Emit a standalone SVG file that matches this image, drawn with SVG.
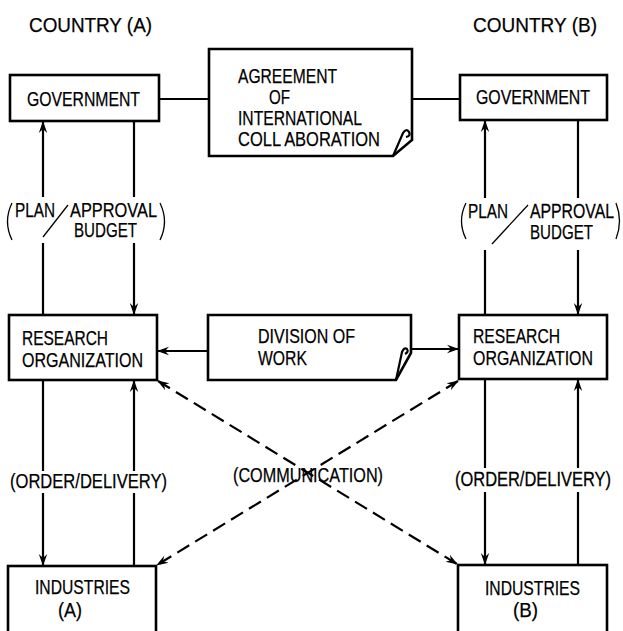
<svg xmlns="http://www.w3.org/2000/svg" width="623" height="631" viewBox="0 0 623 631">
<defs>
<marker id="ah" viewBox="0 0 12 10" markerWidth="12" markerHeight="10" refX="11" refY="5" orient="auto" markerUnits="userSpaceOnUse">
<path d="M0,0.8 L12,5 L0,9.2 L4,5 Z" fill="#000"/>
</marker>
<marker id="ahs" viewBox="0 0 12 10" markerWidth="12" markerHeight="10" refX="1" refY="5" orient="auto" markerUnits="userSpaceOnUse">
<path d="M12,0.8 L0,5 L12,9.2 L8,5 Z" fill="#000"/>
</marker>
<style>
text{font-family:"Liberation Sans",Arial,sans-serif;font-size:20px;fill:#000;stroke:#000;stroke-width:0.25}
.t{font-size:21px}
.s{font-size:17px}
.box{fill:#fff;stroke:#000;stroke-width:2.6}
.ln{fill:none;stroke:#000;stroke-width:2.2}
.dash{fill:none;stroke:#000;stroke-width:2.2;stroke-dasharray:14 7}
.thin{fill:none;stroke:#000;stroke-width:1.3}
</style>
</defs>
<rect width="623" height="631" fill="#fff"/>
<text class="t" x="29" y="32" textLength="123" lengthAdjust="spacingAndGlyphs">COUNTRY (A)</text>
<text class="t" x="473" y="32" textLength="124" lengthAdjust="spacingAndGlyphs">COUNTRY (B)</text>

<g id="connectors">
<line class="ln" x1="159" y1="99" x2="209" y2="99"/>
<line class="ln" x1="412" y1="99" x2="460" y2="99"/>
<line class="ln" x1="43" y1="197" x2="43" y2="122" marker-end="url(#ah)"/>
<line class="ln" x1="43" y1="243" x2="43" y2="315"/>
<line class="ln" x1="134" y1="121" x2="134" y2="197"/>
<line class="ln" x1="134" y1="243" x2="134" y2="314" marker-end="url(#ah)"/>
<line class="ln" x1="485" y1="198" x2="485" y2="121" marker-end="url(#ah)"/>
<line class="ln" x1="485" y1="250" x2="485" y2="315"/>
<line class="ln" x1="578" y1="120" x2="578" y2="198"/>
<line class="ln" x1="578" y1="250" x2="578" y2="314" marker-end="url(#ah)"/>
<line class="ln" x1="208" y1="351" x2="158" y2="351" marker-end="url(#ah)"/>
<line class="ln" x1="411" y1="349" x2="458" y2="349" marker-end="url(#ah)"/>
<line class="ln" x1="43" y1="380" x2="43" y2="471"/>
<line class="ln" x1="43" y1="493" x2="43" y2="565" marker-end="url(#ah)"/>
<line class="ln" x1="134" y1="566" x2="134" y2="493"/>
<line class="ln" x1="134" y1="471" x2="134" y2="381" marker-end="url(#ah)"/>
<line class="ln" x1="485" y1="379" x2="485" y2="468"/>
<line class="ln" x1="485" y1="492" x2="485" y2="564" marker-end="url(#ah)"/>
<line class="ln" x1="578" y1="565" x2="578" y2="492"/>
<line class="ln" x1="578" y1="468" x2="578" y2="380" marker-end="url(#ah)"/>
<line class="dash" x1="158" y1="381" x2="457" y2="564" marker-start="url(#ahs)" marker-end="url(#ah)"/>
<line class="dash" x1="458" y1="381" x2="157" y2="565" marker-start="url(#ahs)" marker-end="url(#ah)"/>
</g>

<g id="label-plan-a">
<path class="thin" d="M12,203 Q3,221.5 12,240"/>
<text x="15" y="217" textLength="40" lengthAdjust="spacingAndGlyphs">PLAN</text>
<line class="thin" x1="43" y1="237" x2="68" y2="205"/>
<text x="70" y="217" textLength="87" lengthAdjust="spacingAndGlyphs">APPROVAL</text>
<text x="74" y="237" textLength="63" lengthAdjust="spacingAndGlyphs">BUDGET</text>
<path class="thin" d="M160,203 Q169,221.5 160,240"/>
</g>
<g id="label-plan-b">
<path class="thin" d="M466,203 Q457,221 466,239"/>
<text x="468" y="218" textLength="40" lengthAdjust="spacingAndGlyphs">PLAN</text>
<line class="thin" x1="492" y1="244" x2="528" y2="205"/>
<text class="s" transform="scale(1,1.18)" x="530" y="184.75" textLength="84" lengthAdjust="spacingAndGlyphs">APPROVAL</text>
<text x="530" y="239" textLength="63" lengthAdjust="spacingAndGlyphs">BUDGET</text>
<path class="thin" d="M616,203 Q623,221 616,239"/>
</g>
<g id="label-order-a"><text x="10" y="488" textLength="157" lengthAdjust="spacingAndGlyphs">(ORDER/DELIVERY)</text></g>
<g id="label-order-b"><text class="s" transform="scale(1,1.18)" x="455" y="411.86" textLength="156" lengthAdjust="spacingAndGlyphs">(ORDER/DELIVERY)</text></g>
<g id="label-communication"><text x="233" y="482" textLength="150" lengthAdjust="spacingAndGlyphs">(COMMUNICATION)</text></g>

<g id="gov-a">
<rect class="box" x="10" y="75" width="149" height="46"/>
<text x="27" y="106" textLength="113" lengthAdjust="spacingAndGlyphs">GOVERNMENT</text>
</g>
<g id="gov-b">
<rect class="box" x="460" y="75" width="147" height="45"/>
<text x="476" y="104" textLength="114" lengthAdjust="spacingAndGlyphs">GOVERNMENT</text>
</g>
<g id="agreement">
<path class="box" d="M209,49 H412 V140 L393,156 H209 Z"/>
<path class="ln" d="M393,156 L403,133 Q406,128 409,132 Q411,136 406,137"/>
<text x="238" y="83" textLength="99" lengthAdjust="spacingAndGlyphs">AGREEMENT</text>
<text x="269" y="104" textLength="21" lengthAdjust="spacingAndGlyphs">OF</text>
<text x="238" y="125" textLength="124" lengthAdjust="spacingAndGlyphs">INTERNATIONAL</text>
<text x="238" y="146" textLength="142" lengthAdjust="spacingAndGlyphs">COLL ABORATION</text>
</g>
<g id="research-a">
<rect class="box" x="9" y="315" width="148" height="65"/>
<text x="22" y="345" textLength="86" lengthAdjust="spacingAndGlyphs">RESEARCH</text>
<text x="22" y="367" textLength="121" lengthAdjust="spacingAndGlyphs">ORGANIZATION</text>
</g>
<g id="division">
<path class="box" d="M208,315 H411 V353 L396,380 H208 Z"/>
<path class="ln" d="M396,380 L402,352 Q404,347 407,349 Q409,352 405,354"/>
<text x="258" y="343" textLength="97" lengthAdjust="spacingAndGlyphs">DIVISION OF</text>
<text x="258" y="365" textLength="49" lengthAdjust="spacingAndGlyphs">WORK</text>
</g>
<g id="research-b">
<rect class="box" x="459" y="315" width="148" height="64"/>
<text x="473" y="343" textLength="87" lengthAdjust="spacingAndGlyphs">RESEARCH</text>
<text x="473" y="365" textLength="120" lengthAdjust="spacingAndGlyphs">ORGANIZATION</text>
</g>
<g id="industries-a">
<rect class="box" x="8" y="566" width="148" height="80"/>
<text x="35" y="594" textLength="95" lengthAdjust="spacingAndGlyphs">INDUSTRIES</text>
<text x="58" y="617" textLength="24" lengthAdjust="spacingAndGlyphs">(A)</text>
</g>
<g id="industries-b">
<rect class="box" x="458" y="565" width="149" height="80"/>
<text x="485" y="595" textLength="95" lengthAdjust="spacingAndGlyphs">INDUSTRIES</text>
<text x="513" y="617" textLength="25" lengthAdjust="spacingAndGlyphs">(B)</text>
</g>
</svg>
